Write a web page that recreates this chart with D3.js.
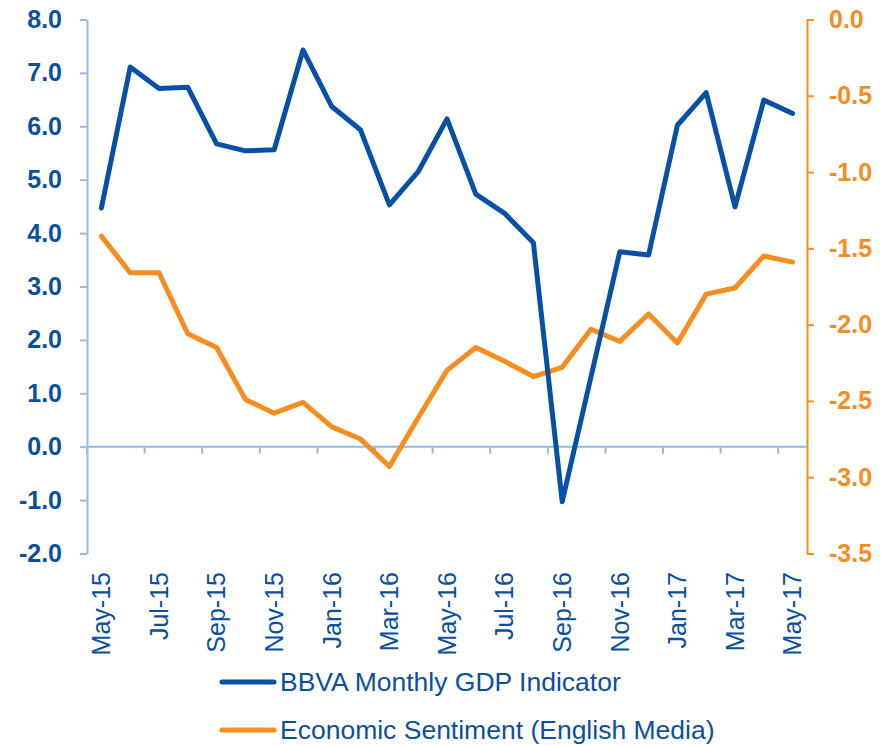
<!DOCTYPE html>
<html>
<head>
<meta charset="utf-8">
<script src="https://cdn.jsdelivr.net/npm/d3@7"></script>
<style>
	body { margin: 0; background: #fff; }
	svg { display: block; font-family: "Liberation Sans", Arial, sans-serif; }
</style>
</head>
<body>
<div id="chart"></div>
<script>

var months = ["May-15","Jun-15","Jul-15","Aug-15","Sep-15","Oct-15","Nov-15","Dec-15",
	"Jan-16","Feb-16","Mar-16","Apr-16","May-16","Jun-16","Jul-16","Aug-16",
	"Sep-16","Oct-16","Nov-16","Dec-16","Jan-17","Feb-17","Mar-17","Apr-17","May-17"];
var gdpIndicator = [4.47, 7.11, 6.71, 6.73, 5.67, 5.54, 5.56, 7.43, 6.37, 5.93, 4.53, 5.15, 6.14,
	4.73, 4.37, 3.82, -1.03, 1.31, 3.65, 3.59, 6.02, 6.63, 4.49, 6.49, 6.24];
var sentiment = [-1.42, -1.66, -1.66, -2.06, -2.15, -2.49, -2.58, -2.51, -2.67, -2.75, -2.93, -2.61, -2.30,
	-2.15, -2.24, -2.34, -2.28, -2.03, -2.11, -1.93, -2.12, -1.80, -1.76, -1.55, -1.59];
var leftTicks = [-2, -1, 0, 1, 2, 3, 4, 5, 6, 7, 8];
var rightTicks = [-3.5, -3.0, -2.5, -2.0, -1.5, -1.0, -0.5, 0.0];
var seriesNames = ["BBVA Monthly GDP Indicator", "Economic Sentiment (English Media)"];

var width = 889;
var height = 746;
// plot box (note: "top" is a reserved window property, so use other names)
var plotLeft = 87, plotRight = 807, plotTop = 19.5, plotBottom = 553.5;

var blue = "#0650a5";
var orange = "#f78c1f";
var axisBlue = "#8ebdea";
var textBlue = "#0b4fa0";

var svg = d3.select("#chart")
	.append("svg")
	.attr("width", width)
	.attr("height", height);

var x = d3.scaleBand().domain(months).range([plotLeft, plotRight]);
var yLeft = d3.scaleLinear().domain([-2, 8]).range([plotBottom, plotTop]);
var yRight = d3.scaleLinear().domain([-3.5, 0]).range([plotBottom, plotTop]);

function cx(i) { return x(months[i]) + x.bandwidth() / 2; }
function fmt(d) { return d3.format(".1f")(d).replace("\u2212", "-"); }

/************************************** Axes ********************************************************/

// left axis
var gl = svg.append("g").attr("transform", "translate(" + plotLeft + ",0)")
	.call(d3.axisLeft(yLeft).tickValues(leftTicks).tickSize(7).tickSizeOuter(0));
gl.select(".domain").attr("stroke", axisBlue).attr("stroke-width", 2);
gl.selectAll(".tick line").attr("stroke", axisBlue).attr("stroke-width", 2);
gl.selectAll(".tick text")
	.attr("x", -25)
	.attr("fill", textBlue)
	.style("font-family", "'Liberation Sans', Arial, sans-serif")
	.style("font-size", "25px")
	.style("font-weight", "bold")
	.text(fmt);

// right axis
var gr = svg.append("g").attr("transform", "translate(" + plotRight + ",0)")
	.call(d3.axisRight(yRight).tickValues(rightTicks).tickSize(7).tickSizeOuter(0));
gr.select(".domain").attr("stroke", orange).attr("stroke-width", 2);
gr.selectAll(".tick line").attr("stroke", orange).attr("stroke-width", 2);
gr.selectAll(".tick text")
	.attr("x", 22)
	.attr("fill", orange)
	.style("font-family", "'Liberation Sans', Arial, sans-serif")
	.style("font-size", "25px")
	.style("font-weight", "bold")
	.text(fmt);

// horizontal axis at zero, ticks every two months on band edges
var zeroY = yLeft(0);
svg.append("line")
	.attr("x1", plotLeft).attr("x2", plotRight)
	.attr("y1", zeroY).attr("y2", zeroY)
	.attr("stroke", axisBlue).attr("stroke-width", 2);

var shown = months.filter(function(d, i) { return i % 2 == 0; });

svg.selectAll(".xtick")
	.data(shown)
	.enter().append("line")
	.attr("class", "xtick")
	.attr("x1", function(d) { return x(d); })
	.attr("x2", function(d) { return x(d); })
	.attr("y1", zeroY).attr("y2", zeroY + 7)
	.attr("stroke", axisBlue).attr("stroke-width", 2);

svg.selectAll(".xlabel")
	.data(shown)
	.enter().append("text")
	.attr("class", "xlabel")
	.attr("transform", function(d) { return "translate(" + (x(d) + x.bandwidth() / 2) + ",572) rotate(-90)"; })
	.attr("text-anchor", "end")
	.attr("dy", "0.35em")
	.attr("fill", textBlue)
	.style("font-size", "25px")
	.text(function(d) { return d; });

/************************************** Lines ********************************************************/

var lineLeft = d3.line()
	.x(function(d, i) { return cx(i); })
	.y(function(d) { return yLeft(d); });
var lineRight = d3.line()
	.x(function(d, i) { return cx(i); })
	.y(function(d) { return yRight(d); });

svg.append("path")
	.datum(sentiment)
	.attr("d", lineRight)
	.attr("fill", "none")
	.attr("stroke", orange)
	.attr("stroke-width", 5)
	.attr("stroke-linejoin", "round")
	.attr("stroke-linecap", "round");

svg.append("path")
	.datum(gdpIndicator)
	.attr("d", lineLeft)
	.attr("fill", "none")
	.attr("stroke", blue)
	.attr("stroke-width", 5)
	.attr("stroke-linejoin", "round")
	.attr("stroke-linecap", "round");

/************************************** Legend ********************************************************/

var legend = svg.selectAll(".legend")
	.data(seriesNames)
	.enter().append("g")
	.attr("class", "legend")
	.attr("transform", function(d, i) { return "translate(0," + (682 + i * 48) + ")"; });

legend.append("line")
	.attr("x1", 222).attr("x2", 274)
	.attr("y1", 0).attr("y2", 0)
	.attr("stroke", function(d, i) { return i == 0 ? blue : orange; })
	.attr("stroke-width", 5)
	.attr("stroke-linecap", "round");

legend.append("text")
	.attr("x", 280)
	.attr("dy", "0.35em")
	.attr("fill", textBlue)
	.style("font-size", "26.5px")
	.text(function(d) { return d; });

</script>
</body>
</html>
